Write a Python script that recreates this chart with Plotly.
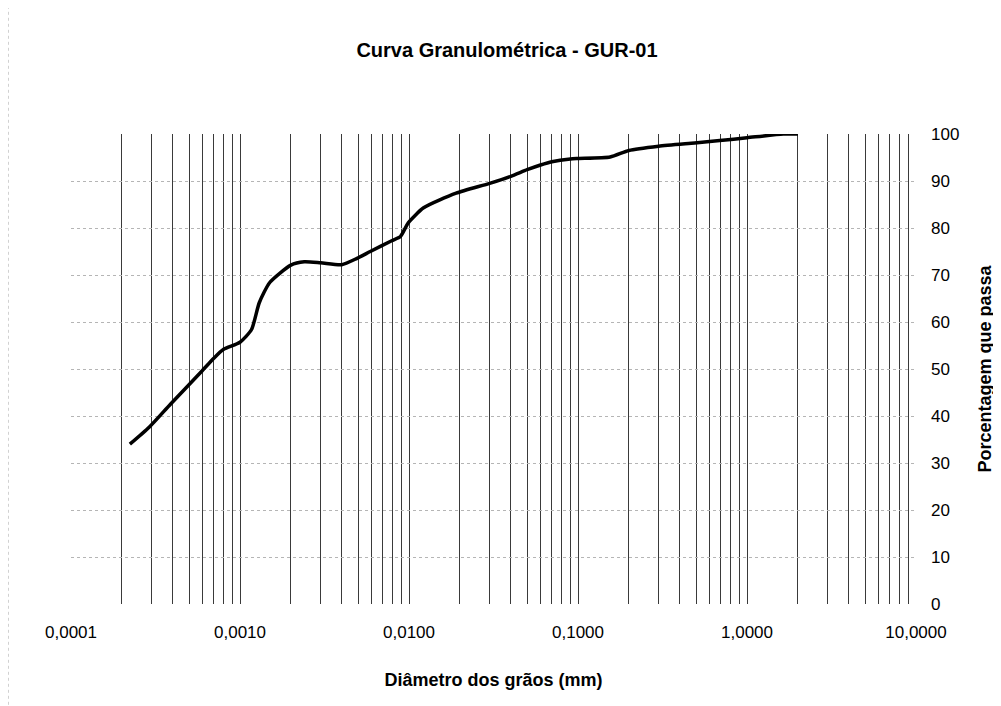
import plotly.graph_objects as go

# Grain diameter (mm) and percent passing
diametro_mm = [0.000223, 0.00029, 0.00039, 0.00059, 0.0007, 0.0008, 0.001, 0.00117,
               0.0013, 0.0015, 0.002, 0.0024, 0.003, 0.004, 0.0049, 0.0059, 0.0079,
               0.0089, 0.0099, 0.0122, 0.019, 0.03, 0.04, 0.05, 0.06, 0.07, 0.09,
               0.1, 0.155, 0.2, 0.3, 0.49, 0.69, 1.0, 1.64, 2.0]
porcentagem = [34.0, 37.6, 42.6, 49.4, 52.3, 54.2, 55.7, 58.4,
               64.1, 68.4, 72.1, 72.8, 72.6, 72.2, 73.5, 75.0, 77.3,
               78.2, 81.1, 84.3, 87.4, 89.5, 91.0, 92.4, 93.4, 94.1, 94.7,
               94.8, 95.1, 96.5, 97.4, 98.1, 98.6, 99.2, 100.0, 100.0]

x_tickvals = [0.0001, 0.001, 0.01, 0.1, 1, 10]
x_ticktext = ["0,0001", "0,0010", "0,0100", "0,1000", "1,0000", "10,0000"]
y_tickvals = [0, 10, 20, 30, 40, 50, 60, 70, 80, 90, 100]

FONT = "Liberation Sans, Arial, sans-serif"

fig = go.Figure()
fig.add_trace(go.Scatter(
    x=diametro_mm, y=porcentagem, mode="lines",
    line=dict(color="black", width=3.5, shape="spline", smoothing=0.6),
    showlegend=False, hoverinfo="skip"))

fig.update_layout(
    width=1001, height=706,
    margin=dict(l=63, r=93, t=126, b=110),
    paper_bgcolor="white", plot_bgcolor="white",
    font=dict(family=FONT, color="black", size=17),
    title=dict(text="<b>Curva Granulométrica - GUR-01</b>",
               x=0.516, xref="paper", xanchor="center",
               y=0.9405, yref="container", yanchor="middle",
               font=dict(size=20, family=FONT)),
    shapes=[dict(type="line", xref="paper", yref="paper",
                 x0=-0.0746, x1=-0.0746, y0=-0.24, y1=1.27,
                 line=dict(color="#9a9a9a", width=1, dash="dot"))],
)

fig.update_xaxes(
    type="log", range=[-4, 1],
    tickvals=x_tickvals, ticktext=x_ticktext,
    tickfont=dict(size=17),
    showgrid=True, gridcolor="#3a3a3a", gridwidth=1,
    minor=dict(showgrid=True, gridcolor="#3a3a3a", gridwidth=1, dtick="D1"),
    showline=False, zeroline=False, ticks="",
    ticklabelstandoff=16,
    title=dict(text="<b>Diâmetro dos grãos (mm)</b>", font=dict(size=18), standoff=32),
)
fig.update_yaxes(
    range=[0, 100], side="right",
    tickvals=y_tickvals,
    tickfont=dict(size=17),
    showgrid=True, gridcolor="#b5b5b5", gridwidth=1, griddash="dot",
    showline=False, zeroline=False, ticks="",
    ticklabelstandoff=14,
    title=dict(text="<b>Porcentagem que passa</b>", font=dict(size=18), standoff=20),
)

fig.write_html("out.html")
